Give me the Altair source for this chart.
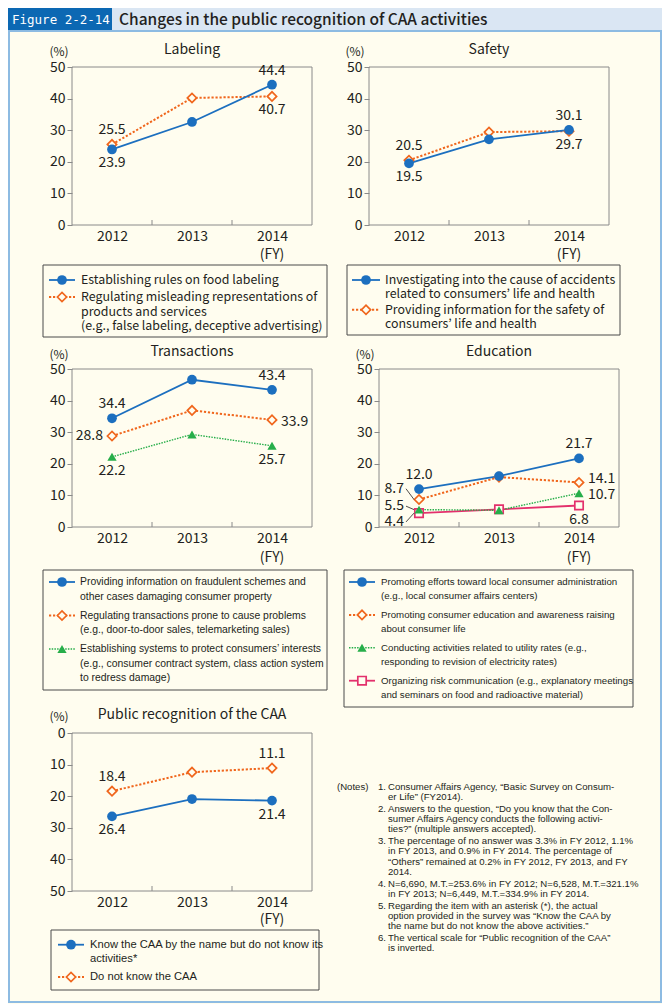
import altair as alt
import pandas as pd

# ---------------- data ----------------
YEARS = ["2012", "2013", "2014"]

LABELING_FOOD_RULES = [23.9, 32.6, 44.4]
LABELING_MISLEADING = [25.5, 40.2, 40.7]
SAFETY_INVESTIGATING = [19.5, 27.1, 30.1]
SAFETY_INFORMATION = [20.5, 29.4, 29.7]
TRANS_FRAUD_INFO = [34.4, 46.6, 43.4]
TRANS_REGULATING = [28.8, 36.9, 33.9]
TRANS_SYSTEMS = [22.2, 29.3, 25.7]
EDU_LOCAL_ADMIN = [12.0, 16.1, 21.7]
EDU_CONSUMER_EDU = [8.7, 15.8, 14.1]
EDU_UTILITY = [5.5, 5.3, 10.7]
EDU_RISK_COMM = [4.4, 5.6, 6.8]
CAA_NAME_ONLY = [26.4, 20.9, 21.4]
CAA_UNKNOWN = [18.4, 12.4, 11.1]

Y_TICKS = [0, 10, 20, 30, 40, 50]

PANEL_TITLES = ["Labeling", "Safety", "Transactions", "Education",
                "Public recognition of the CAA"]

LEGEND_LABELING = [
    ["Establishing rules on food labeling"],
    ["Regulating misleading representations of", "products and services",
     "(e.g., false labeling, deceptive advertising)"],
]
LEGEND_SAFETY = [
    ["Investigating into the cause of accidents",
     "related to consumers\u2019 life and health"],
    ["Providing information for the safety of",
     "consumers\u2019 life and health"],
]
LEGEND_TRANS = [
    ["Providing information on fraudulent schemes and",
     "other cases damaging consumer property"],
    ["Regulating transactions prone to cause problems",
     "(e.g., door-to-door sales, telemarketing sales)"],
    ["Establishing systems to protect consumers\u2019 interests",
     "(e.g., consumer contract system, class action system",
     "to redress damage)"],
]
LEGEND_EDU = [
    ["Promoting efforts toward local consumer administration",
     "(e.g., local consumer affairs centers)"],
    ["Promoting consumer education and awareness raising",
     "about consumer life"],
    ["Conducting activities related to utility rates (e.g.,",
     "responding to revision of electricity rates)"],
    ["Organizing risk communication (e.g., explanatory meetings",
     "and seminars on food and radioactive material)"],
]
LEGEND_CAA = [
    ["Know the CAA by the name but do not know its", "activities*"],
    ["Do not know the CAA"],
]

HEADER_TAG = "Figure 2-2-14"
HEADER_TITLE = "Changes in the public recognition of CAA activities"
NOTES_TAG = "(Notes)"
NOTES = [
    ("1.", ["Consumer Affairs Agency, \u201cBasic Survey on Consum-",
            "er Life\u201d (FY2014)."]),
    ("2.", ["Answers to the question, \u201cDo you know that the Con-",
            "sumer Affairs Agency conducts the following activi-",
            "ties?\u201d (multiple answers accepted)."]),
    ("3.", ["The percentage of no answer was 3.3% in FY 2012, 1.1%",
            "in FY 2013, and 0.9% in FY 2014. The percentage of",
            "\u201cOthers\u201d remained at 0.2% in FY 2012, FY 2013, and FY",
            "2014."]),
    ("4.", ["N=6,690, M.T.=253.6% in FY 2012; N=6,528, M.T.=321.1%",
            "in FY 2013; N=6,449, M.T.=334.9% in FY 2014."]),
    ("5.", ["Regarding the item with an asterisk (*), the actual",
            "option provided in the survey was \u201cKnow the CAA by",
            "the name but do not know the above activities.\u201d"]),
    ("6.", ["The vertical scale for \u201cPublic recognition of the CAA\u201d",
            "is inverted."]),
]

# ---------------- styling / layout ----------------
W, H = 654, 996
HEAD_H = 23


def X(v):
    return round(v - 6, 1)


def Y(v):
    return round(v - 6, 1)


FONT = "Noto Sans CJK JP"
SMALL = "Liberation Sans"
NOTE_FONT = "Liberation Sans"
INK = "#231f20"
FRAME = "#8a8a8a"
CREAM = "#fffdef"

STYLE = {
    "blue": dict(color="#1c6fbf", dash=None, width=1.8, shape="circle",
                 filled=True, size=95),
    "orange": dict(color="#f0661c", dash=[2.2, 1.8], width=2.0,
                   shape="diamond", filled=False, size=85),
    "green": dict(color="#27ae4a", dash=[1.5, 1.2], width=1.4,
                  shape="triangle-up", filled=True, size=85),
    "pink": dict(color="#e3306c", dash=None, width=1.8, shape="square",
                 filled=False, size=70),
}

PLACE = {
    "a": dict(dy=-14, align="center"),
    "b": dict(dy=14, align="center"),
    "l": dict(dx=-9, align="right"),
    "r": dict(dx=9, align="left"),
    "ru": dict(dx=9, dy=-3, align="left"),
    "rd": dict(dx=9, dy=2, align="left"),
    "L": dict(dx=-15, align="right"),
}

PANELS = [
    dict(title=PANEL_TITLES[0],
         series=[("blue", LABELING_FOOD_RULES, ["b", "a"]),
                 ("orange", LABELING_MISLEADING, ["a", "b"])],
         plot=(70, 310, 65, 223), inverted=False,
         pct=(57, 49.5), title_y=48, fy_y=253,
         legend=LEGEND_LABELING, lbox=(41, 325, 263, 335), lsym=(47, 73),
         ltext=79, lrows=(278, 14.5, 2.5), lfont=FONT, lsize=12.4),
    dict(title=PANEL_TITLES[1],
         series=[("blue", SAFETY_INVESTIGATING, ["b", "a"]),
                 ("orange", SAFETY_INFORMATION, ["a", "b"])],
         plot=(367, 607, 65, 223), inverted=False,
         pct=(353, 49.5), title_y=48, fy_y=253,
         legend=LEGEND_SAFETY, lbox=(345, 618, 263, 333), lsym=(350, 378),
         ltext=383, lrows=(278, 14.4, 1), lfont=FONT, lsize=12.4),
    dict(title=PANEL_TITLES[2],
         series=[("blue", TRANS_FRAUD_INFO, ["a", "a"]),
                 ("orange", TRANS_REGULATING, ["l", "rd"]),
                 ("green", TRANS_SYSTEMS, ["b", "b"])],
         plot=(70, 310, 367, 525), inverted=False,
         pct=(57, 352.5), title_y=350, fy_y=556,
         legend=LEGEND_TRANS, lbox=(41, 325, 568, 688), lsym=(47, 73),
         ltext=78, lrows=(580, 14.5, 4.5), lfont=SMALL, lsize=10.4),
    dict(title=PANEL_TITLES[3],
         series=[("blue", EDU_LOCAL_ADMIN, ["a", "a"]),
                 ("orange", EDU_CONSUMER_EDU, [("L", 12.1), "ru"]),
                 ("green", EDU_UTILITY, [("L", 6.6), "rd"]),
                 ("pink", EDU_RISK_COMM, [("L", 1.6), "b"])],
         plot=(377, 617, 367, 525), inverted=False,
         pct=(363, 352.5), title_y=350, fy_y=556,
         legend=LEGEND_EDU, lbox=(342, 631, 568, 705), lsym=(347, 373),
         ltext=379, lrows=(580, 14.3, 4.3), lfont=SMALL, lsize=9.7),
    dict(title=PANEL_TITLES[4],
         series=[("blue", CAA_NAME_ONLY, ["b", "b"]),
                 ("orange", CAA_UNKNOWN, ["a", "a"])],
         plot=(70, 310, 731, 889), inverted=True,
         pct=(57, 714.5), title_y=713, fy_y=918,
         legend=LEGEND_CAA, lbox=(49, 317, 928, 988), lsym=(56, 82),
         ltext=88, lrows=(942.7, 14, 4.3), lfont=SMALL, lsize=11.2),
]


# ---------------- helpers ----------------
def px(field):
    return alt.X(f"{field}:Q", scale=None, axis=None)


def py(field):
    return alt.Y(f"{field}:Q", scale=None, axis=None)


def rects(rows, **mark):
    df = pd.DataFrame(rows, columns=["x", "x2", "y", "y2"])
    return alt.Chart(df).mark_rect(**mark).encode(
        x=px("x"), x2="x2", y=py("y"), y2="y2")


def hrules(rows, **mark):
    df = pd.DataFrame(rows, columns=["x", "x2", "y", "y2"])
    return alt.Chart(df).mark_rule(**mark).encode(
        x=px("x"), x2="x2", y=py("y"), y2="y2")


def texts(rows, **mark):
    df = pd.DataFrame(rows, columns=["x", "y", "t"])
    base = dict(baseline="middle", color=INK)
    base.update(mark)
    return alt.Chart(df).mark_text(**base).encode(
        x=px("x"), y=py("y"), text="t:N")


def point_mark(style, **extra):
    st = STYLE[style]
    if st["filled"]:
        return dict(shape=st["shape"], filled=True, color=st["color"],
                    opacity=1, size=st["size"], **extra)
    return dict(shape=st["shape"], filled=True, fill=CREAM,
                stroke=st["color"], strokeWidth=1.7, opacity=1,
                size=st["size"], **extra)


def line_mark(style):
    st = STYLE[style]
    kw = dict(color=st["color"], strokeWidth=st["width"])
    if st["dash"]:
        kw["strokeDash"] = st["dash"]
    return kw


def build_panel(p):
    x0, x1, yt, yb = p["plot"]
    px0, px1, pyt, pyb = X(x0), X(x1), Y(yt), Y(yb)
    xs = alt.Scale(type="point", domain=YEARS, range=[px0, px1], padding=0.5)
    yr = [pyt, pyb] if p["inverted"] else [pyb, pyt]
    ys = alt.Scale(domain=[0, 50], range=yr, nice=False, zero=False)
    xax = alt.Axis(orient="bottom", offset=pyb - H, ticks=False, tickSize=0,
                   domain=False, grid=False, labelAngle=0, labelPadding=4,
                   labelFont=FONT, labelFontSize=14, labelColor=INK,
                   title=None)
    yax = alt.Axis(orient="left", offset=-px0, values=Y_TICKS, tickSize=5,
                   tickColor=FRAME, domain=False, grid=False, labelPadding=2,
                   labelFont=FONT, labelFontSize=14, labelColor=INK,
                   title=None)

    def xe():
        return alt.X("year:O", scale=xs, axis=xax)

    def ye(field):
        return alt.Y(f"{field}:Q", scale=ys, axis=yax)

    layers = []
    ordered = list(reversed(p["series"]))
    for style, vals, _ in ordered:
        df = pd.DataFrame({"year": YEARS, "value": vals})
        layers.append(alt.Chart(df).mark_line(**line_mark(style)).encode(
            x=xe(), y=ye("value")))
    for style, vals, _ in ordered:
        df = pd.DataFrame({"year": YEARS, "value": vals})
        layers.append(alt.Chart(df).mark_point(**point_mark(style)).encode(
            x=xe(), y=ye("value")))

    # value labels for 2012 and 2014
    groups = {}
    for style, vals, places in p["series"]:
        for idx, place in zip([0, 2], places):
            if isinstance(place, tuple):
                key, ly = place
            else:
                key, ly = place, vals[idx]
            groups.setdefault(key, []).append(
                dict(year=YEARS[idx], value=vals[idx], ly=ly,
                     t=f"{vals[idx]:.1f}"))
    for key, rows in groups.items():
        df = pd.DataFrame(rows)
        layers.append(alt.Chart(df).mark_text(
            font=FONT, fontSize=14, color=INK, baseline="middle",
            **PLACE[key]).encode(x=xe(), y=ye("ly"), text="t:N"))
        if key == "L":
            layers.append(alt.Chart(df).mark_rule(
                color=INK, strokeWidth=0.8, xOffset=-13, x2Offset=-5).encode(
                x=xe(), x2=alt.X2("year"), y=ye("ly"), y2=alt.Y2("value")))
    return alt.layer(*layers)


# ---------------- assemble ----------------
layers = []
layers.append(rects([(0, W, 0, HEAD_H)], fill="#dae6f3"))
layers.append(rects([(0, 104, 0, HEAD_H)], fill="#0c68b3"))
layers.append(rects([(1, W - 1, HEAD_H, H - 2)], fillOpacity=0,
                    stroke="#8dbbe2", strokeWidth=2))

frames, boxes, ticks = [], [], []
title_rows, pct_rows, fy_rows = [], [], []
leg_rows = {}
sym_rules, sym_points = {}, {}
for p in PANELS:
    x0, x1, yt, yb = p["plot"]
    frames.append((X(x0), X(x1), Y(yt), Y(yb)))
    step = (x1 - x0) / 3
    for k in (1, 2):
        ticks.append((X(x0 + k * step), X(x0 + k * step), Y(yb) - 5, Y(yb)))
    title_rows.append((X((x0 + x1) / 2), Y(p["title_y"]), p["title"]))
    pct_rows.append((X(p["pct"][0]), Y(p["pct"][1]), "(%)"))
    fy_rows.append((X(x0 + 2.5 * step), Y(p["fy_y"]), "(FY)"))
    bx0, bx1, by0, by1 = p["lbox"]
    boxes.append((X(bx0), X(bx1), Y(by0), Y(by1)))
    y, lh, gap = p["lrows"]
    for (style, _, _), lines in zip(p["series"], p["legend"]):
        sym_rules.setdefault(style, []).append(
            (X(p["lsym"][0]), X(p["lsym"][1]), Y(y), Y(y)))
        sym_points.setdefault(style, []).append(
            (X((p["lsym"][0] + p["lsym"][1]) / 2), Y(y)))
        for line in lines:
            leg_rows.setdefault((p["lfont"], p["lsize"]), []).append(
                (X(p["ltext"]), Y(y), line))
            y += lh
        y += gap

layers.append(rects(frames, fillOpacity=0, stroke=FRAME, strokeWidth=1))
layers.append(rects(boxes, fillOpacity=0, stroke="#4a4a4a", strokeWidth=1))
layers.append(hrules(ticks, color=FRAME, strokeWidth=1))

for p in PANELS:
    layers.append(build_panel(p))

for style in ["orange", "green", "pink", "blue"]:
    if style in sym_rules:
        layers.append(hrules(sym_rules[style], **line_mark(style)))
        df = pd.DataFrame(sym_points[style], columns=["x", "y"])
        layers.append(alt.Chart(df).mark_point(**point_mark(style)).encode(
            x=px("x"), y=py("y")))

layers.append(texts(title_rows, font=FONT, fontSize=14, align="center"))
layers.append(texts(pct_rows, font=FONT, fontSize=12, align="center"))
layers.append(texts(fy_rows, font=FONT, fontSize=14, align="center"))
for (fnt, size), rows in leg_rows.items():
    layers.append(texts(rows, font=fnt, fontSize=size, align="left"))

# header
layers.append(texts([(4, HEAD_H / 2, HEADER_TAG)], font="DejaVu Sans Mono",
                    fontSize=12.5, align="left", color="white"))
layers.append(texts([(111, HEAD_H / 2 + 0.5, HEADER_TITLE)], font=FONT,
                    fontSize=15.5, fontWeight=500, align="left"))

# notes
note_y, note_lh, note_gap = 785, 10.1, 1.9
tag_rows, num_rows, line_rows = [], [], []
tag_rows.append((X(335), Y(note_y), NOTES_TAG))
yy = note_y
for num, lines in NOTES:
    num_rows.append((X(376), Y(yy), num))
    for line in lines:
        line_rows.append((X(386), Y(yy), line))
        yy += note_lh
    yy += note_gap
layers.append(texts(tag_rows, font=NOTE_FONT, fontSize=9.6, align="left"))
layers.append(texts(num_rows, font=NOTE_FONT, fontSize=9.6, align="left"))
layers.append(texts(line_rows, font=NOTE_FONT, fontSize=9.6, align="left"))

chart = (
    alt.layer(*layers)
    .resolve_scale(x="independent", y="independent")
    .properties(width=W, height=H, autosize=alt.AutoSizeParams(type="none"),
                padding=0, background=CREAM)
    .configure_view(stroke=None)
)

chart.save("out.html", embed_options={"renderer": "svg", "actions": False})
